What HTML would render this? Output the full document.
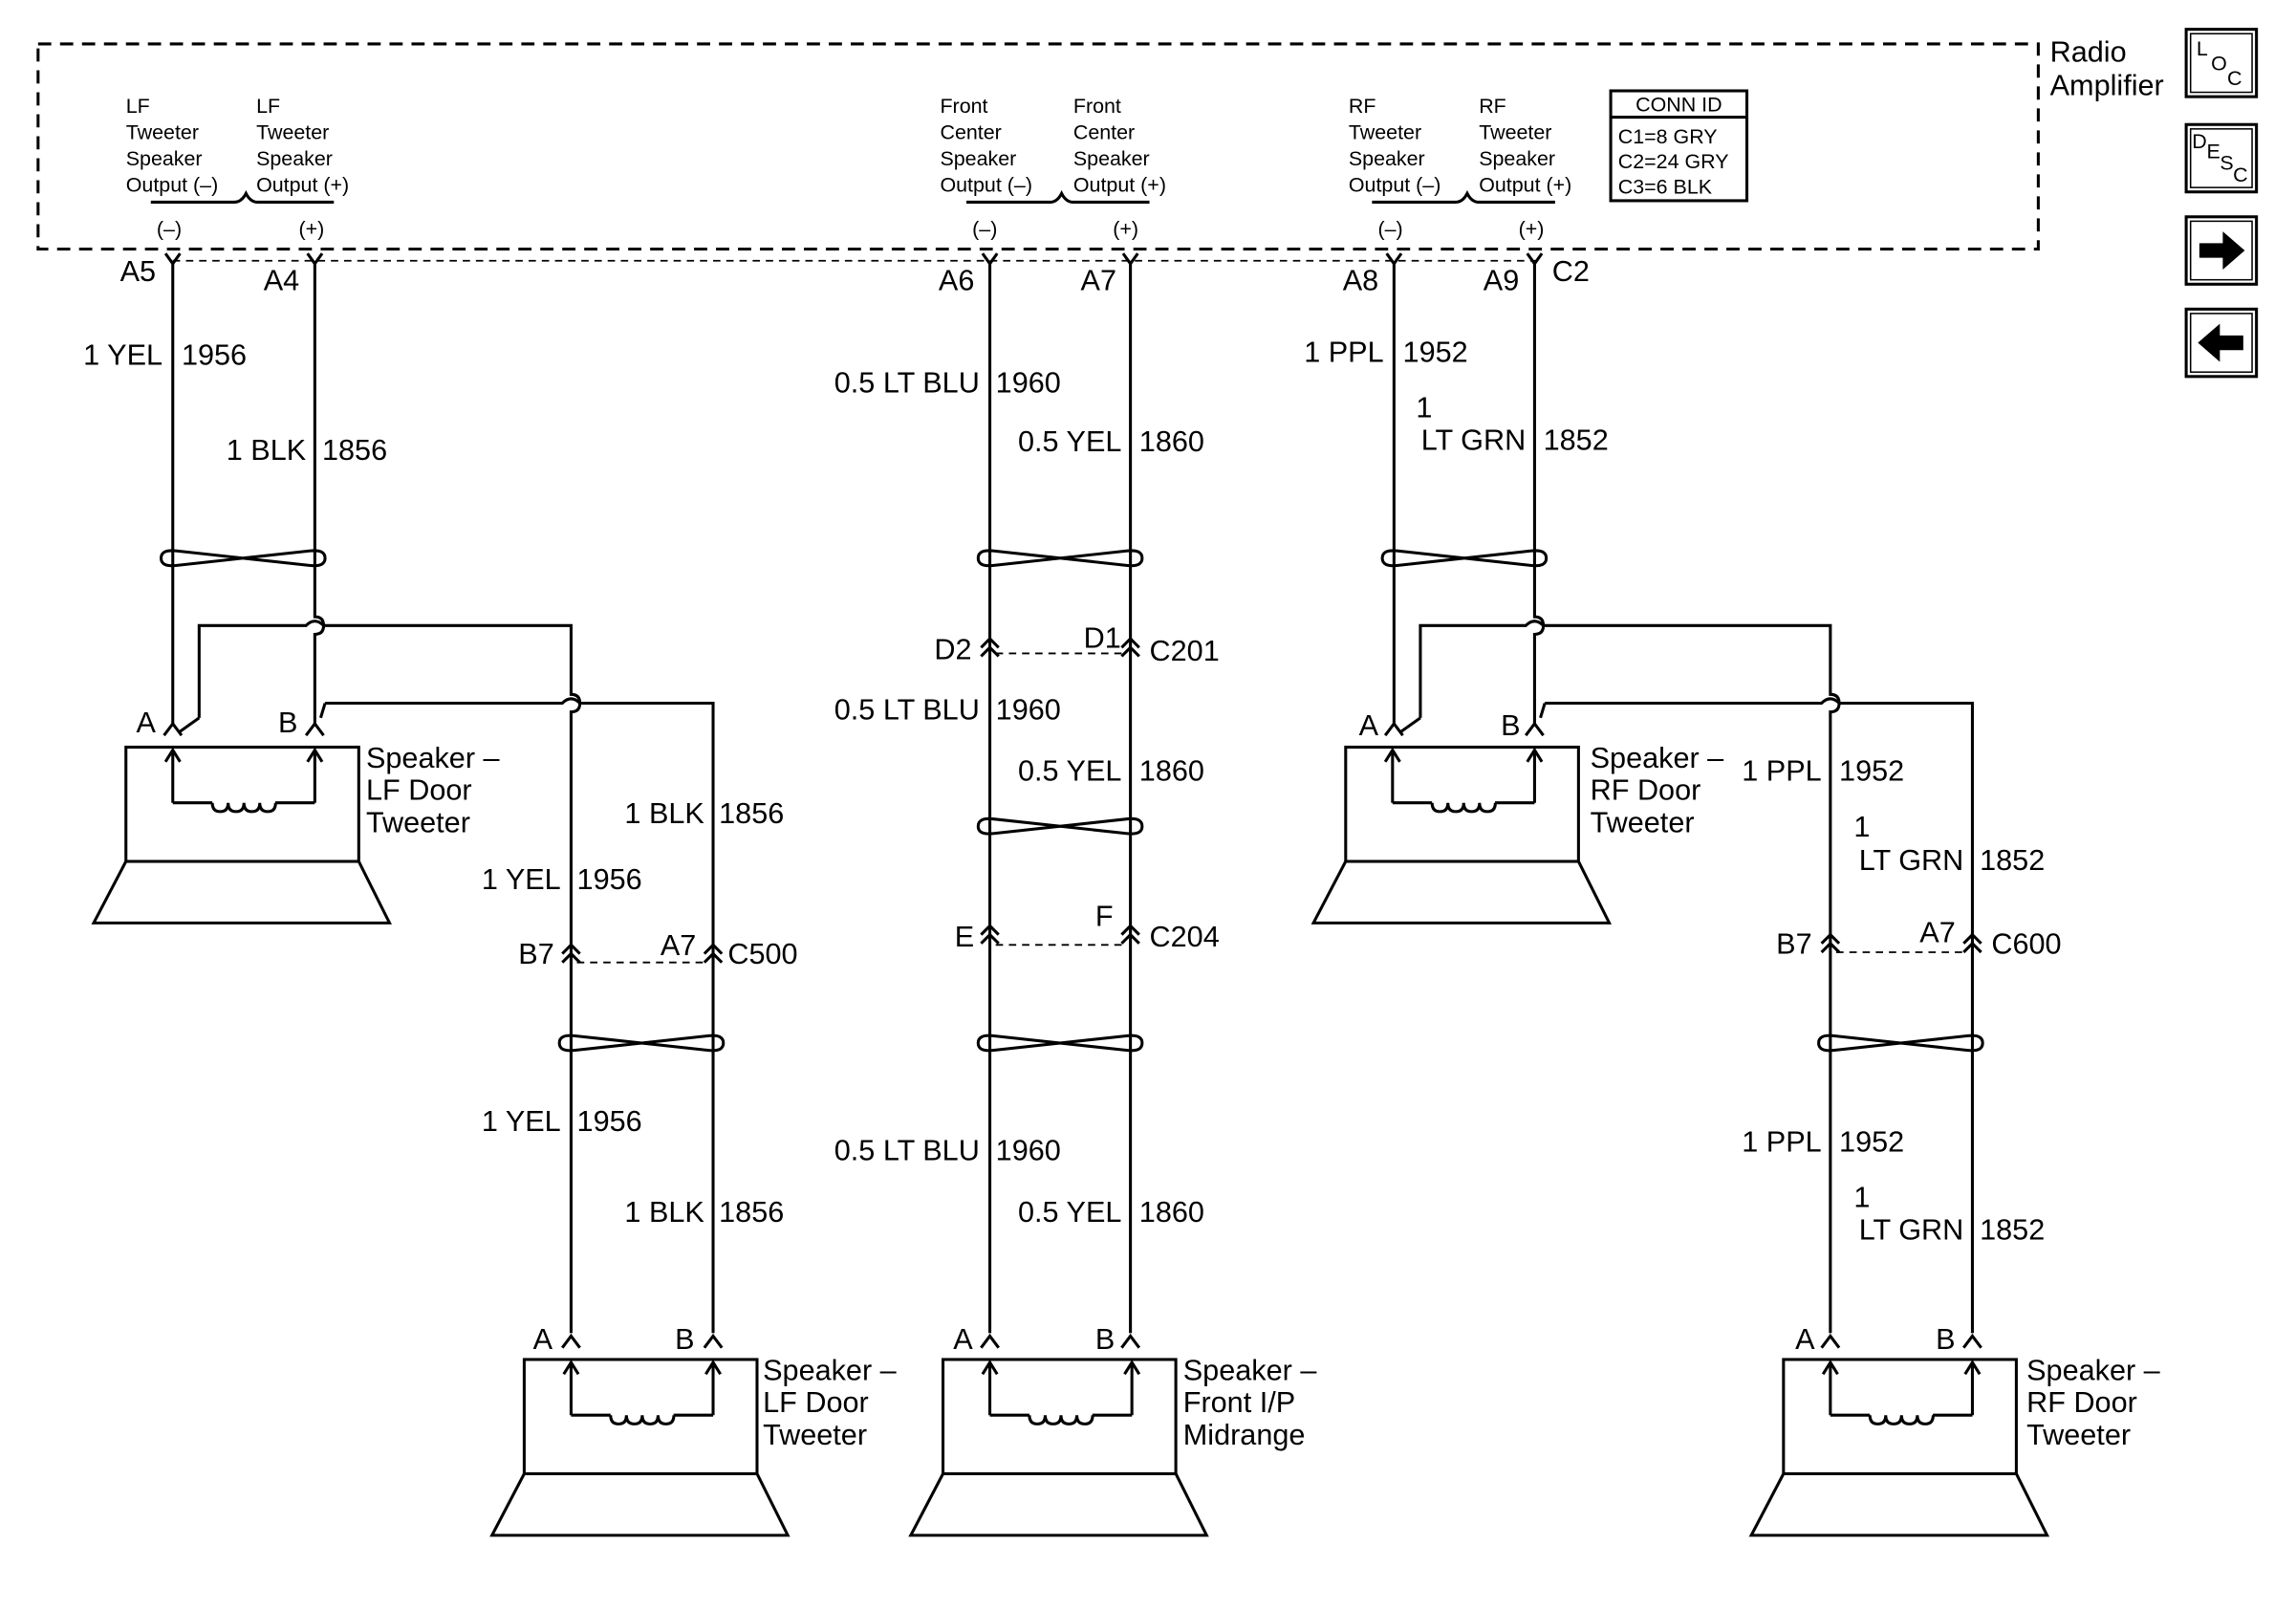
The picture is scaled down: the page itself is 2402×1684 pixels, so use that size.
<!DOCTYPE html>
<html><head><meta charset="utf-8"><style>
html,body{margin:0;padding:0;background:#fff}
svg{display:block}
text{font-family:"Liberation Sans",Arial,sans-serif;fill:#000}
.s{font-size:14px}.m{font-size:20px}.l{font-size:20px}
</style></head><body>
<svg width="2402" height="1684" viewBox="0 0 1568 1099" preserveAspectRatio="none" xmlns="http://www.w3.org/2000/svg">
<g fill="none" stroke="#000" stroke-width="2">
<path d="M26 30 H1392 V170 H26 Z" stroke-dasharray="9,6"/>
<path d="M118 178 H1050" stroke-dasharray="5,4" stroke-width="1.2"/>
<rect x="1100" y="62" width="93" height="75"/>
<line x1="1100" y1="80" x2="1193" y2="80"/>
<rect x="1493" y="20" width="48" height="46"/><rect x="1496" y="23" width="42" height="40" stroke-width="1"/>
<rect x="1493" y="85" width="48" height="46"/><rect x="1496" y="88" width="42" height="40" stroke-width="1"/>
<rect x="1493" y="148" width="48" height="46"/><rect x="1496" y="151" width="42" height="40" stroke-width="1"/>
<rect x="1493" y="211" width="48" height="46"/><rect x="1496" y="214" width="42" height="40" stroke-width="1"/>
<path d="M103 138 H160 Q165 138 168 132 Q171 138 176 138 H228"/>
<path d="M660 138 H717 Q722 138 725 132 Q728 138 733 138 H785"/>
<path d="M937 138 H994 Q999 138 1002 132 Q1005 138 1010 138 H1062"/>
<path d="M113 173 L118 180 L123 173 M210 173 L215 180 L220 173 M671 173 L676 180 L681 173 M767 173 L772 180 L777 173 M947 173 L952 180 L957 173 M1043 173 L1048 180 L1053 173"/>
<path d="M118 180 V494 M215 180 V421 Q221 421 221 427 Q221 433 215 433 V494"/>
<path d="M136 490 V427 H209 Q215 421 221 427 H390 V474 Q396 474 396 480 Q396 486 390 486 V910"/>
<path d="M136 490 L122 500"/>
<path d="M222 480 H384 Q390 474 396 480 H487 V910 M222 480 L219 490"/>
<path d="M676 180 V910 M772 180 V910"/>
<path d="M952 180 V494 M1048 180 V421 Q1054 421 1054 427 Q1054 433 1048 433 V494"/>
<path d="M970 490 V427 H1042 Q1048 421 1054 427 H1250 V474 Q1256 474 1256 480 Q1256 486 1250 486 V910"/>
<path d="M970 490 L956 500"/>
<path d="M1055 480 H1244 Q1250 474 1256 480 H1347 V910 M1055 480 L1052 490"/>
<path d="M112 502 L118 494 L124 502 M209 502 L215 494 L221 502 M946 502 L952 494 L958 502 M1042 502 L1048 494 L1054 502"/>
<path d="M384 920 L390 912 L396 920 M481 920 L487 912 L493 920 M670 920 L676 912 L682 920 M766 920 L772 912 L778 920 M1244 920 L1250 912 L1256 920 M1341 920 L1347 912 L1353 920"/>
<path d="M670 442 L676 436 L682 442 M670 448 L676 442 L682 448 M766 442 L772 436 L778 442 M766 448 L772 442 L778 448"/>
<path d="M680 446 H768" stroke-dasharray="5,4" stroke-width="1.2"/>
<path d="M670 638 L676 632 L682 638 M670 644 L676 638 L682 644 M766 638 L772 632 L778 638 M766 644 L772 638 L778 644"/>
<path d="M680 645 H768" stroke-dasharray="5,4" stroke-width="1.2"/>
<path d="M384 651 L390 645 L396 651 M384 657 L390 651 L396 657 M481 651 L487 645 L493 651 M481 657 L487 651 L493 657"/>
<path d="M394 657 H483" stroke-dasharray="5,4" stroke-width="1.2"/>
<path d="M1244 644 L1250 638 L1256 644 M1244 650 L1250 644 L1256 650 M1341 644 L1347 638 L1353 644 M1341 650 L1347 644 L1353 650"/>
<path d="M1254 650 H1343" stroke-dasharray="5,4" stroke-width="1.2"/>
<path id="tw" d="M110 381 Q110 375 120 376 L212 386 Q222 387 222 381 Q222 375 212 376 L120 386 Q110 387 110 381Z"/>
<use href="#tw" x="558" y="0"/>
<use href="#tw" x="834" y="0"/>
<use href="#tw" x="558" y="183"/>
<use href="#tw" x="558" y="331"/>
<use href="#tw" x="272" y="331"/>
<use href="#tw" x="1132" y="331"/>
<g id="sp">
<rect x="86" y="510" width="159" height="78"/>
<path d="M86 588 L64 630 H266 L245 588"/>
<path d="M118 548 V514 M215 548 V514 M118 548 H145 M188 548 H215"/>
<path d="M113 520 L118 512 L123 520 M210 520 L215 512 L220 520"/>
<path d="M145 548 q0 6 5.4 6 q5.4 0 5.4 -6 q0 6 5.4 6 q5.4 0 5.4 -6 q0 6 5.4 6 q5.4 0 5.4 -6 q0 6 5.4 6 q5.4 0 5.4 -6"/>
</g>
<use href="#sp" x="272" y="418"/>
<use href="#sp" x="558" y="418"/>
<use href="#sp" x="833" y="0"/>
<use href="#sp" x="1132" y="418"/>
</g>
<path d="M1502 166 H1518 V158 L1533 171 L1518 184 V176 H1502Z"/>
<path d="M1532 229 H1516 V221 L1501 234 L1516 247 V239 H1532Z"/>
<text x="1500" y="38" class="s">L</text><text x="1510" y="48" class="s">O</text><text x="1521" y="58" class="s">C</text>
<text x="1497" y="101" class="s">D</text><text x="1507" y="108" class="s">E</text><text x="1516" y="116" class="s">S</text><text x="1525" y="124" class="s">C</text>
<text x="1400" y="42" class="l">Radio</text><text x="1400" y="65" class="l">Amplifier</text>
<text x="1117" y="76" class="s">CONN ID</text>
<text x="1105" y="98" class="s">C1=8 GRY</text><text x="1105" y="115" class="s">C2=24 GRY</text><text x="1105" y="132" class="s">C3=6 BLK</text>
<g class="s">
<text x="86" y="77">LF</text><text x="86" y="95">Tweeter</text><text x="86" y="113">Speaker</text><text x="86" y="131">Output (–)</text>
<text x="175" y="77">LF</text><text x="175" y="95">Tweeter</text><text x="175" y="113">Speaker</text><text x="175" y="131">Output (+)</text>
<text x="642" y="77">Front</text><text x="642" y="95">Center</text><text x="642" y="113">Speaker</text><text x="642" y="131">Output (–)</text>
<text x="733" y="77">Front</text><text x="733" y="95">Center</text><text x="733" y="113">Speaker</text><text x="733" y="131">Output (+)</text>
<text x="921" y="77">RF</text><text x="921" y="95">Tweeter</text><text x="921" y="113">Speaker</text><text x="921" y="131">Output (–)</text>
<text x="1010" y="77">RF</text><text x="1010" y="95">Tweeter</text><text x="1010" y="113">Speaker</text><text x="1010" y="131">Output (+)</text>
<text x="107" y="161">(–)</text><text x="204" y="161">(+)</text>
<text x="664" y="161">(–)</text><text x="760" y="161">(+)</text>
<text x="941" y="161">(–)</text><text x="1037" y="161">(+)</text>
</g>
<g class="m">
<text x="82" y="192">A5</text><text x="180" y="198">A4</text><text x="641" y="198">A6</text><text x="738" y="198">A7</text>
<text x="917" y="198">A8</text><text x="1013" y="198">A9</text><text x="1060" y="192">C2</text>
<text x="111" y="249" text-anchor="end">1 YEL</text><text x="124" y="249">1956</text>
<text x="209" y="314" text-anchor="end">1 BLK</text><text x="220" y="314">1856</text>
<text x="669" y="268" text-anchor="end">0.5 LT BLU</text><text x="680" y="268">1960</text>
<text x="766" y="308" text-anchor="end">0.5 YEL</text><text x="778" y="308">1860</text>
<text x="945" y="247" text-anchor="end">1 PPL</text><text x="958" y="247">1952</text>
<text x="967" y="285">1</text><text x="1042" y="307" text-anchor="end">LT GRN</text><text x="1054" y="307">1852</text>
<text x="93" y="500">A</text><text x="190" y="500">B</text>
<text x="928" y="502">A</text><text x="1025" y="502">B</text>
<text x="364" y="921">A</text><text x="461" y="921">B</text>
<text x="651" y="921">A</text><text x="748" y="921">B</text>
<text x="1226" y="921">A</text><text x="1322" y="921">B</text>
<text x="638" y="450">D2</text><text x="740" y="442">D1</text><text x="785" y="451">C201</text>
<text x="669" y="491" text-anchor="end">0.5 LT BLU</text><text x="680" y="491">1960</text>
<text x="766" y="533" text-anchor="end">0.5 YEL</text><text x="778" y="533">1860</text>
<text x="652" y="646">E</text><text x="748" y="632">F</text><text x="785" y="646">C204</text>
<text x="669" y="792" text-anchor="end">0.5 LT BLU</text><text x="680" y="792">1960</text>
<text x="766" y="834" text-anchor="end">0.5 YEL</text><text x="778" y="834">1860</text>
<text x="481" y="562" text-anchor="end">1 BLK</text><text x="491" y="562">1856</text>
<text x="383" y="607" text-anchor="end">1 YEL</text><text x="394" y="607">1956</text>
<text x="354" y="658">B7</text><text x="451" y="652">A7</text><text x="497" y="658">C500</text>
<text x="383" y="772" text-anchor="end">1 YEL</text><text x="394" y="772">1956</text>
<text x="481" y="834" text-anchor="end">1 BLK</text><text x="491" y="834">1856</text>
<text x="1244" y="533" text-anchor="end">1 PPL</text><text x="1256" y="533">1952</text>
<text x="1266" y="571">1</text><text x="1341" y="594" text-anchor="end">LT GRN</text><text x="1352" y="594">1852</text>
<text x="1213" y="651">B7</text><text x="1311" y="643">A7</text><text x="1360" y="651">C600</text>
<text x="1244" y="786" text-anchor="end">1 PPL</text><text x="1256" y="786">1952</text>
<text x="1266" y="824">1</text><text x="1341" y="846" text-anchor="end">LT GRN</text><text x="1352" y="846">1852</text>
</g>
<g class="l">
<text x="250" y="524">Speaker –</text><text x="250" y="546">LF Door</text><text x="250" y="568">Tweeter</text>
<text x="1086" y="524">Speaker –</text><text x="1086" y="546">RF Door</text><text x="1086" y="568">Tweeter</text>
<text x="521" y="942">Speaker –</text><text x="521" y="964">LF Door</text><text x="521" y="986">Tweeter</text>
<text x="808" y="942">Speaker –</text><text x="808" y="964">Front I/P</text><text x="808" y="986">Midrange</text>
<text x="1384" y="942">Speaker –</text><text x="1384" y="964">RF Door</text><text x="1384" y="986">Tweeter</text>
</g>
</svg>
</body></html>
